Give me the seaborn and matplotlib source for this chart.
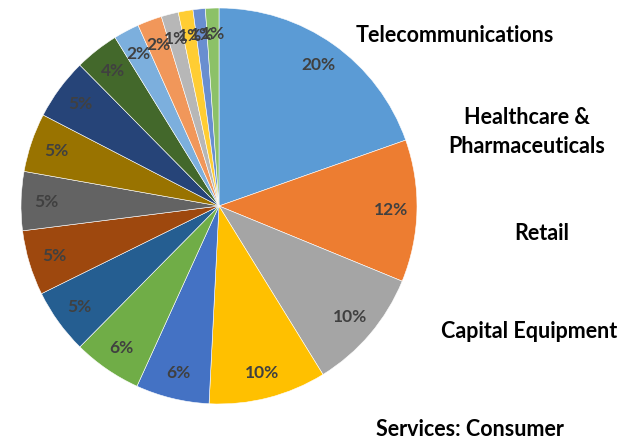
import matplotlib
matplotlib.use("Agg")
import matplotlib.pyplot as plt
import seaborn as sns

# slice shares, clockwise from 12 o'clock
shares = [19.6, 11.6, 10.0, 9.6, 6.0, 5.6, 5.3, 5.3, 4.8, 4.8,
          5.0, 3.6, 2.1, 2.0, 1.4, 1.2, 1.0, 1.1]
colors = ["#5B9BD5", "#ED7D31", "#A5A5A5", "#FFC000", "#4472C4", "#70AD47",
          "#255E91", "#9E480E", "#636363", "#997300", "#264478", "#43682B",
          "#7CAFDD", "#F1975A", "#B7B7B7", "#FFCD33", "#698ED0", "#8CC168"]
# visible legend names (rest is cut off in the original)
names = ["Telecommunications", "Healthcare &\nPharmaceuticals", "Retail",
         "Capital Equipment", "Services: Consumer"]
name_pos = [(455, 35), (527, 132), (542, 234), (529, 332), (470, 430)]

sns.set_style("white")
plt.rcParams["font.family"] = ["Lato", "DejaVu Sans"]

W, H = 634, 443
fig = plt.figure(figsize=(W / 100, H / 100), dpi=100)

cx, cy, r = 219, 206, 198
ax = fig.add_axes([(cx - r) / W, (H - cy - r) / H, 2 * r / W, 2 * r / H])

wedges, texts, autotexts = ax.pie(
    shares, colors=sns.color_palette(colors), startangle=90, counterclock=False,
    autopct="%1.0f%%", pctdistance=0.87,
    wedgeprops=dict(edgecolor="white", linewidth=0.4),
    textprops=dict(color="#404040", fontsize=12.5, fontweight="bold"))
ax.set_xlim(-1, 1)
ax.set_ylim(-1, 1)
ax.set_aspect("equal")
ax.axis("off")

for name, (x, y) in zip(names, name_pos):
    fig.text(x / W, 1 - y / H, name, ha="center", va="center",
             fontsize=15.5, fontweight="bold", color="black", linespacing=1.45)

plt.savefig("out.png", dpi=100)
